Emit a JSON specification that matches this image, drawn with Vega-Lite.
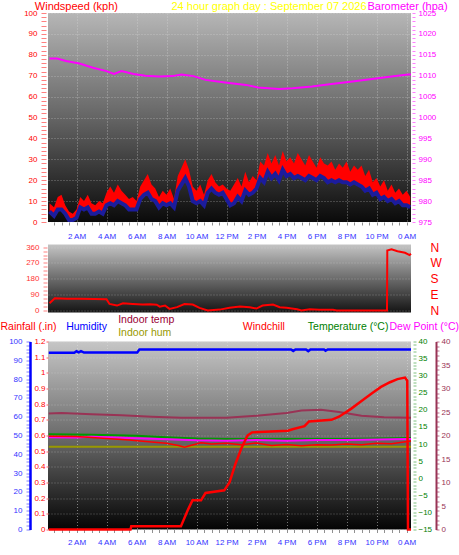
{
"$schema":"https://vega.github.io/schema/vega-lite/v6.json",
"padding":0,
"background":"white",
"bounds":"flush",
"spacing":22.5,
"config":{"font":"Liberation Sans","view":{"stroke":null},"axis":{"labelFont":"Liberation Sans","labelFontSize":8,"titleFont":"Liberation Sans","titleFontWeight":"normal","titleFontSize":11}},
"datasets":{
"wind":[{"h":0.2,"g":9,"a":5},{"h":0.5,"g":7,"a":3},{"h":0.75,"g":12,"a":6},{"h":1,"g":13,"a":6},{"h":1.25,"g":8,"a":4},{"h":1.5,"g":5,"a":1},{"h":1.75,"g":4,"a":1},{"h":2,"g":6,"a":2},{"h":2.25,"g":12,"a":7},{"h":2.5,"g":10,"a":6},{"h":2.75,"g":13,"a":7},{"h":3,"g":9,"a":4},{"h":3.25,"g":8,"a":4},{"h":3.5,"g":10,"a":5},{"h":3.75,"g":9,"a":4},{"h":4,"g":14,"a":8},{"h":4.25,"g":17,"a":9},{"h":4.5,"g":14,"a":8},{"h":4.75,"g":18,"a":10},{"h":5,"g":15,"a":9},{"h":5.25,"g":13,"a":8},{"h":5.5,"g":11,"a":6},{"h":5.75,"g":12,"a":6},{"h":6,"g":10,"a":6},{"h":6.25,"g":17,"a":11},{"h":6.5,"g":20,"a":13},{"h":6.75,"g":23,"a":14},{"h":7,"g":18,"a":11},{"h":7.25,"g":16,"a":10},{"h":7.5,"g":12,"a":7},{"h":7.75,"g":15,"a":9},{"h":8,"g":13,"a":8},{"h":8.25,"g":16,"a":9},{"h":8.5,"g":11,"a":7},{"h":8.75,"g":22,"a":15},{"h":9,"g":26,"a":18},{"h":9.25,"g":30,"a":21},{"h":9.5,"g":25,"a":17},{"h":9.75,"g":17,"a":10},{"h":10,"g":15,"a":9},{"h":10.25,"g":18,"a":10},{"h":10.5,"g":13,"a":8},{"h":10.75,"g":20,"a":14},{"h":11,"g":23,"a":16},{"h":11.25,"g":19,"a":14},{"h":11.5,"g":17,"a":13},{"h":11.75,"g":18,"a":14},{"h":12,"g":16,"a":11},{"h":12.25,"g":15,"a":8},{"h":12.5,"g":18,"a":9},{"h":12.75,"g":21,"a":12},{"h":13,"g":17,"a":10},{"h":13.25,"g":24,"a":15},{"h":13.5,"g":19,"a":13},{"h":13.75,"g":22,"a":14},{"h":14,"g":20,"a":16},{"h":14.25,"g":29,"a":21},{"h":14.5,"g":27,"a":19},{"h":14.75,"g":33,"a":24},{"h":15,"g":28,"a":21},{"h":15.25,"g":32,"a":23},{"h":15.5,"g":27,"a":20},{"h":15.75,"g":34,"a":25},{"h":16,"g":29,"a":22},{"h":16.25,"g":31,"a":23},{"h":16.5,"g":28,"a":21},{"h":16.75,"g":33,"a":22},{"h":17,"g":30,"a":21},{"h":17.25,"g":27,"a":20},{"h":17.5,"g":32,"a":22},{"h":17.75,"g":29,"a":21},{"h":18,"g":26,"a":20},{"h":18.25,"g":31,"a":22},{"h":18.5,"g":28,"a":21},{"h":18.75,"g":27,"a":19},{"h":19,"g":29,"a":20},{"h":19.25,"g":25,"a":19},{"h":19.5,"g":28,"a":20},{"h":19.75,"g":26,"a":19},{"h":20,"g":29,"a":19},{"h":20.25,"g":24,"a":18},{"h":20.5,"g":27,"a":19},{"h":20.75,"g":25,"a":18},{"h":21,"g":27,"a":17},{"h":21.25,"g":22,"a":15},{"h":21.5,"g":25,"a":16},{"h":21.75,"g":19,"a":13},{"h":22,"g":21,"a":14},{"h":22.25,"g":17,"a":11},{"h":22.5,"g":20,"a":12},{"h":22.75,"g":15,"a":10},{"h":23,"g":18,"a":11},{"h":23.25,"g":14,"a":9},{"h":23.5,"g":16,"a":10},{"h":23.75,"g":13,"a":8},{"h":24,"g":15,"a":8},{"h":24.25,"g":12,"a":7}],
"baro":[{"h":0.2,"v":1014.1},{"h":0.7,"v":1014.1},{"h":1.3,"v":1013.5},{"h":2.2,"v":1012.9},{"h":3.1,"v":1011.9},{"h":4,"v":1011.1},{"h":4.5,"v":1010.4},{"h":5,"v":1011.1},{"h":5.8,"v":1010.4},{"h":6.6,"v":1010},{"h":7.5,"v":1009.8},{"h":8.4,"v":1009.9},{"h":9,"v":1010.3},{"h":9.8,"v":1009.9},{"h":10.6,"v":1009},{"h":11.9,"v":1008.4},{"h":13.3,"v":1007.8},{"h":14.1,"v":1007.2},{"h":15.5,"v":1006.8},{"h":16.4,"v":1007},{"h":17.7,"v":1007.4},{"h":19,"v":1008},{"h":20.4,"v":1008.6},{"h":21.7,"v":1009.2},{"h":23,"v":1009.8},{"h":24.1,"v":1010.3},{"h":24.3,"v":1010.3}],
"dir":[{"h":0.2,"v":41},{"h":0.55,"v":69},{"h":1.35,"v":66},{"h":2.2,"v":67},{"h":3.2,"v":65},{"h":4,"v":64},{"h":4.2,"v":37},{"h":4.7,"v":28},{"h":5.1,"v":41},{"h":5.75,"v":37},{"h":6.4,"v":34},{"h":6.9,"v":35},{"h":7.35,"v":33},{"h":7.55,"v":22},{"h":7.9,"v":28},{"h":8.2,"v":9},{"h":8.7,"v":19},{"h":9.2,"v":37},{"h":9.75,"v":34},{"h":10.2,"v":15},{"h":10.75,"v":0},{"h":11.55,"v":5},{"h":12.2,"v":15},{"h":12.9,"v":22},{"h":13.55,"v":19},{"h":14,"v":11},{"h":14.4,"v":28},{"h":15.1,"v":34},{"h":15.55,"v":19},{"h":16,"v":15},{"h":16.7,"v":7},{"h":17,"v":0},{"h":17.55,"v":7},{"h":18.2,"v":4},{"h":19.1,"v":4},{"h":19.35,"v":0},{"h":22.7,"v":0},{"h":22.72,"v":341},{"h":23,"v":347},{"h":23.4,"v":337},{"h":23.9,"v":328},{"h":24.2,"v":315},{"h":24.3,"v":322}],
"rain":[{"h":0.15,"v":0},{"h":5.6,"v":0},{"h":5.65,"v":0.02},{"h":8.96,"v":0.02},{"h":9.4,"v":0.12},{"h":9.73,"v":0.186},{"h":10.3,"v":0.186},{"h":10.6,"v":0.233},{"h":11.85,"v":0.25},{"h":12.2,"v":0.3},{"h":12.6,"v":0.42},{"h":13,"v":0.52},{"h":13.4,"v":0.6},{"h":13.7,"v":0.62},{"h":16.1,"v":0.63},{"h":16.4,"v":0.64},{"h":17.2,"v":0.66},{"h":17.5,"v":0.69},{"h":19,"v":0.7},{"h":19.5,"v":0.72},{"h":20.3,"v":0.77},{"h":21,"v":0.82},{"h":21.7,"v":0.87},{"h":22.3,"v":0.91},{"h":22.9,"v":0.94},{"h":23.4,"v":0.96},{"h":23.9,"v":0.97},{"h":24.05,"v":0.95},{"h":24.1,"v":0},{"h":24.3,"v":0}],
"hum":[{"h":0.15,"v":94},{"h":1.85,"v":94},{"h":2,"v":94.8},{"h":2.15,"v":94.2},{"h":2.3,"v":94.9},{"h":2.5,"v":94.1},{"h":6.05,"v":94.1},{"h":6.2,"v":95.8},{"h":16.3,"v":95.8},{"h":16.45,"v":95},{"h":16.6,"v":95.8},{"h":17.3,"v":95.8},{"h":17.45,"v":94.9},{"h":17.6,"v":95.8},{"h":18.5,"v":95.8},{"h":18.6,"v":95.1},{"h":18.75,"v":95.8},{"h":24.3,"v":95.8}],
"ihum":[{"h":0.15,"v":44},{"h":24.3,"v":44}],
"itemp":[{"h":0.15,"v":24.7},{"h":1,"v":24.8},{"h":3,"v":24.5},{"h":5,"v":24.3},{"h":7,"v":24},{"h":9,"v":23.8},{"h":12,"v":23.8},{"h":14,"v":24.2},{"h":16,"v":24.8},{"h":17,"v":25.3},{"h":18.3,"v":25.5},{"h":19.5,"v":25},{"h":21,"v":24.2},{"h":22.5,"v":23.9},{"h":24.3,"v":23.8}],
"temp":[{"h":0.15,"v":12.9},{"h":3,"v":12.7},{"h":6,"v":12.4},{"h":8,"v":12},{"h":10,"v":11.6},{"h":12,"v":11.5},{"h":16,"v":11.5},{"h":20,"v":11.5},{"h":24.3,"v":11.8}],
"dew":[{"h":0.15,"v":12},{"h":2,"v":11.9},{"h":3,"v":12.1},{"h":6,"v":11.7},{"h":8,"v":11.4},{"h":10,"v":11.1},{"h":12,"v":11},{"h":14,"v":11.2},{"h":16,"v":11},{"h":18,"v":11.2},{"h":20,"v":11.2},{"h":22,"v":11.3},{"h":24.3,"v":11.5}],
"chill":[{"h":0.15,"v":12.3},{"h":2,"v":12.2},{"h":4,"v":11.6},{"h":5.5,"v":11.2},{"h":7,"v":10.6},{"h":8,"v":10.2},{"h":8.8,"v":9.6},{"h":9.2,"v":9.1},{"h":9.6,"v":9.6},{"h":10.3,"v":10.4},{"h":11,"v":10},{"h":12,"v":10.2},{"h":13,"v":9.8},{"h":14,"v":10.3},{"h":15,"v":9.6},{"h":16,"v":9.9},{"h":17,"v":9.5},{"h":18,"v":9.8},{"h":19,"v":9.7},{"h":20,"v":10},{"h":21,"v":9.8},{"h":22,"v":10.2},{"h":23,"v":10.1},{"h":24.3,"v":10.9}]
},
"vconcat":[
{
"width":363,"height":209,
"view":{"stroke":null,"fill":{"gradient":"linear","x1":0,"y1":0,"x2":0,"y2":1,"stops":[{"offset":0,"color":"#b6b6b6"},{"offset":0.5,"color":"#656565"},{"offset":1,"color":"#0a0a0a"}]}},
"resolve":{"scale":{"y":"independent"}},
"encoding":{
"x":{"field":"h","type":"quantitative","scale":{"domain":[0.1,24.3],"nice":false,"zero":false},
"axis":{"values":[0.5,1,1.5,2,2.5,3,3.5,4,4.5,5,5.5,6,6.5,7,7.5,8,8.5,9,9.5,10,10.5,11,11.5,12,12.5,13,13.5,14,14.5,15,15.5,16,16.5,17,17.5,18,18.5,19,19.5,20,20.5,21,21.5,22,22.5,23,23.5,24],
"labelExpr":"datum.value % 2 == 0 ? (datum.value == 24 ? '0 AM' : (datum.value < 12 ? datum.value + ' AM' : (datum.value == 12 ? '12 PM' : (datum.value - 12) + ' PM'))) : ''",
"labelColor":"#3333ff","labelFontSize":8,"labelPadding":7,"labelOverlap":false,"labelFlush":false,"tickSize":3,"tickColor":"#909090","domain":false,"grid":true,"gridColor":"#e0e0e0","gridDash":[1,2],
"gridOpacity":{"condition":{"test":"datum.value % 2 == 0","value":0.55},"value":0},
"title":"24 hour graph day : September 07 2026","titleColor":"#ffff00","titleFontSize":11,"titleAlign":"left","titleBaseline":"alphabetic","titleAngle":0,"titleX":123,"titleY":-212.5}}},
"layer":[
{"data":{"name":"wind"},"mark":{"type":"area","color":"#ff0000"},
"encoding":{
"y":{"field":"g","type":"quantitative","scale":{"domain":[0,100],"nice":false,"zero":false},
"axis":{"values":[0,2,4,6,8,10,12,14,16,18,20,22,24,26,28,30,32,34,36,38,40,42,44,46,48,50,52,54,56,58,60,62,64,66,68,70,72,74,76,78,80,82,84,86,88,90,92,94,96,98,100],
"labelExpr":"datum.value % 10 == 0 ? datum.label : ''","labelColor":"#ff0000","labelPadding":4,"offset":2,"tickSize":5,"tickColor":"#ff8080","domain":false,"grid":true,"gridColor":"#e0e0e0","gridDash":[1,2],
"gridOpacity":{"condition":{"test":"datum.value % 10 == 0","value":0.45},"value":0},"labelOverlap":false,"labelFlush":false,
"title":"Windspeed (kph)","titleColor":"#ff0000","titleAngle":0,"titleAlign":"left","titleBaseline":"alphabetic","titleX":-11.7,"titleY":-3.5,"titleFontSize":11}},
"y2":{"field":"a"}}},
{"data":{"name":"wind"},"mark":{"type":"line","color":"#1c1c9c","strokeWidth":4},
"encoding":{"y":{"field":"a","type":"quantitative","scale":{"domain":[0,100],"nice":false,"zero":false},"axis":null}}},
{"data":{"name":"baro"},"mark":{"type":"line","color":"#ff00ff","strokeWidth":2},
"encoding":{"y":{"field":"v","type":"quantitative","scale":{"domain":[975,1025],"nice":false,"zero":false},
"axis":{"orient":"right","values":[975,976,977,978,979,980,981,982,983,984,985,986,987,988,989,990,991,992,993,994,995,996,997,998,999,1000,1001,1002,1003,1004,1005,1006,1007,1008,1009,1010,1011,1012,1013,1014,1015,1016,1017,1018,1019,1020,1021,1022,1023,1024,1025],
"format":"d","labelExpr":"datum.value % 5 == 0 ? datum.label : ''","labelColor":"#ff00ff","offset":1,"tickSize":3,"tickColor":"#ff80ff","labelPadding":3,"domain":false,"grid":false,"labelOverlap":false,"labelFlush":false,
"title":"Barometer (hpa)","titleColor":"#ff00ff","titleAngle":0,"titleAlign":"left","titleBaseline":"alphabetic","titleX":-45,"titleY":-3.5,"titleFontSize":11}}}}
]
},
{
"bounds":"flush","spacing":29,
"vconcat":[
{
"width":363,"height":68,
"view":{"stroke":null,"fill":{"gradient":"linear","x1":0,"y1":0,"x2":0,"y2":1,"stops":[{"offset":0,"color":"#c4c4c4"},{"offset":1,"color":"#141414"}]}},
"data":{"name":"dir"},
"resolve":{"scale":{"y":"independent"}},
"encoding":{"x":{"field":"h","type":"quantitative","scale":{"domain":[0.1,24.3],"nice":false,"zero":false},"axis":null}},
"layer":[
{"mark":{"type":"line","color":"#ff0000","strokeWidth":2},
"encoding":{
"y":{"field":"v","type":"quantitative","scale":{"domain":[-11.4,374.8],"nice":false,"zero":false},
"axis":{"values":[0,22.5,45,67.5,90,112.5,135,157.5,180,202.5,225,247.5,270,292.5,315,337.5,360],"labelExpr":"datum.value % 90 == 0 ? datum.label : ''","format":"d","labelColor":"#ff3333","offset":1,"tickSize":4,"tickColor":"#ff8080","labelPadding":4,"domain":false,"grid":true,"gridColor":"#e0e0e0","gridDash":[1,2],
"gridOpacity":{"condition":{"test":"datum.value % 90 == 0","value":0.4},"value":0},"labelOverlap":false,"labelFlush":false,"title":null}}}},
{"mark":{"type":"line","opacity":0},
"encoding":{
"y":{"field":"v","type":"quantitative","scale":{"domain":[-11.4,374.8],"nice":false,"zero":false},
"axis":{"orient":"right","values":[0,90,180,270,360],"labelExpr":"datum.value == 90 ? 'E' : datum.value == 180 ? 'S' : datum.value == 270 ? 'W' : 'N'","labelColor":"#ff0000","labelFontSize":12,"labelPadding":19,"ticks":false,"domain":false,"grid":false,"labelOverlap":false,"labelFlush":false,"title":null}}}}
]
},
{
"width":363,"height":188,
"view":{"stroke":null,"fill":{"gradient":"linear","x1":0,"y1":0,"x2":0,"y2":1,"stops":[{"offset":0,"color":"#c6c6c6"},{"offset":0.5,"color":"#6c6c6c"},{"offset":1,"color":"#040404"}]}},
"resolve":{"scale":{"y":"independent"}},
"encoding":{
"x":{"field":"h","type":"quantitative","scale":{"domain":[0.1,24.3],"nice":false,"zero":false},
"axis":{"values":[0.5,1,1.5,2,2.5,3,3.5,4,4.5,5,5.5,6,6.5,7,7.5,8,8.5,9,9.5,10,10.5,11,11.5,12,12.5,13,13.5,14,14.5,15,15.5,16,16.5,17,17.5,18,18.5,19,19.5,20,20.5,21,21.5,22,22.5,23,23.5,24],
"labelExpr":"datum.value % 2 == 0 ? (datum.value == 24 ? '0 AM' : (datum.value < 12 ? datum.value + ' AM' : (datum.value == 12 ? '12 PM' : (datum.value - 12) + ' PM'))) : ''",
"labelColor":"#3333ff","labelFontSize":8,"labelPadding":6,"labelOverlap":false,"labelFlush":false,"tickSize":3,"tickColor":"#909090","domain":false,"grid":true,"gridColor":"#e0e0e0","gridDash":[1,2],
"gridOpacity":{"condition":{"test":"datum.value % 2 == 0","value":0.5},"value":0},"title":null}}},
"layer":[
{"data":{"name":"ihum"},"mark":{"type":"line","color":"#999900","strokeWidth":2},
"encoding":{
"y":{"field":"v","type":"quantitative","scale":{"domain":[0,100],"nice":false,"zero":false},
"axis":{"orient":"left","offset":0,"labels":false,"ticks":false,"domain":false,"grid":false,"title":"Indoor hum","titleColor":"#999900","titleFontSize":10.5,"titleAngle":0,"titleAlign":"left","titleBaseline":"alphabetic","titleX":69.7,"titleY":-6.5}}}},
{"data":{"name":"itemp"},"mark":{"type":"line","color":"#993355","strokeWidth":2},
"encoding":{
"y":{"field":"v","type":"quantitative","scale":{"domain":[0,40],"nice":false,"zero":false},
"axis":{"orient":"right","offset":25,"values":[0,1,2,3,4,5,6,7,8,9,10,11,12,13,14,15,16,17,18,19,20,21,22,23,24,25,26,27,28,29,30,31,32,33,34,35,36,37,38,39,40],"labelExpr":"datum.value % 5 == 0 ? datum.label : ''","labelColor":"#993355","tickSize":3,"tickColor":"#c07090","labelPadding":2,"domain":true,"domainColor":"#993355","domainWidth":2,"grid":false,"labelOverlap":false,"labelFlush":false,
"title":"Indoor temp","titleColor":"#990033","titleFontSize":10.5,"titleAngle":0,"titleAlign":"left","titleBaseline":"alphabetic","titleX":-318.3,"titleY":-19}}}},
{"data":{"name":"temp"},"mark":{"type":"line","color":"#009900","strokeWidth":2},
"encoding":{
"y":{"field":"v","type":"quantitative","scale":{"domain":[-15,40],"nice":false,"zero":false},
"axis":{"orient":"right","offset":2,"values":[-15,-14,-13,-12,-11,-10,-9,-8,-7,-6,-5,-4,-3,-2,-1,0,1,2,3,4,5,6,7,8,9,10,11,12,13,14,15,16,17,18,19,20,21,22,23,24,25,26,27,28,29,30,31,32,33,34,35,36,37,38,39,40],"labelExpr":"datum.value % 5 == 0 ? datum.label : ''","labelColor":"#008000","tickSize":3,"tickColor":"#80c080","labelPadding":2,"domain":false,"grid":false,"labelOverlap":false,"labelFlush":false,
"title":"Temperature (°C)","titleColor":"#008000","titleFontSize":10.5,"titleAngle":0,"titleAlign":"left","titleBaseline":"alphabetic","titleX":-105.7,"titleY":-12}}}},
{"data":{"name":"dew"},"mark":{"type":"line","color":"#ff00ff","strokeWidth":2},
"encoding":{
"y":{"field":"v","type":"quantitative","scale":{"domain":[-15,40],"nice":false,"zero":false},
"axis":{"orient":"right","offset":0,"labels":false,"ticks":false,"domain":false,"grid":false,"title":"Dew Point (°C)","titleColor":"#ff00ff","titleFontSize":10.5,"titleAngle":0,"titleAlign":"left","titleBaseline":"alphabetic","titleX":-22,"titleY":-12}}}},
{"data":{"name":"chill"},"mark":{"type":"line","color":"#ff0000","strokeWidth":1.5},
"encoding":{
"y":{"field":"v","type":"quantitative","scale":{"domain":[-15,40],"nice":false,"zero":false},
"axis":{"orient":"right","offset":0,"labels":false,"ticks":false,"domain":false,"grid":false,"title":"Windchill","titleColor":"#ff0000","titleFontSize":10.5,"titleAngle":0,"titleAlign":"left","titleBaseline":"alphabetic","titleX":-168.7,"titleY":-12}}}},
{"data":{"name":"hum"},"mark":{"type":"line","color":"#0000ff","strokeWidth":2.5},
"encoding":{
"y":{"field":"v","type":"quantitative","scale":{"domain":[0,100],"nice":false,"zero":false},
"axis":{"orient":"left","offset":18,"values":[0,2,4,6,8,10,12,14,16,18,20,22,24,26,28,30,32,34,36,38,40,42,44,46,48,50,52,54,56,58,60,62,64,66,68,70,72,74,76,78,80,82,84,86,88,90,92,94,96,98,100],"labelExpr":"datum.value % 10 == 0 ? datum.label : ''","labelColor":"#3333ff","tickSize":4,"tickColor":"#8080ff","labelPadding":4,"domain":true,"domainColor":"#0000ff","domainWidth":2.5,"grid":false,"labelOverlap":false,"labelFlush":false,
"title":"Humidity","titleColor":"#0000ff","titleFontSize":10.5,"titleAngle":0,"titleAlign":"left","titleBaseline":"alphabetic","titleX":35.7,"titleY":-12}}}},
{"data":{"name":"rain"},"mark":{"type":"line","color":"#ff0000","strokeWidth":2.5},
"encoding":{
"y":{"field":"v","type":"quantitative","scale":{"domain":[0,1.2],"nice":false,"zero":false},
"axis":{"orient":"left","offset":0,"values":[0,0.1,0.2,0.3,0.4,0.5,0.6,0.7,0.8,0.9,1,1.1,1.2],"format":"~g","labelColor":"#ff0000","tickSize":2,"tickColor":"#ff6060","labelPadding":1,"domain":false,"grid":true,"gridColor":"#e0e0e0","gridDash":[1,2],"gridOpacity":0.4,"labelOverlap":false,"labelFlush":false,
"title":"Rainfall (.in)","titleColor":"#ff0000","titleFontSize":10.5,"titleAngle":0,"titleAlign":"left","titleBaseline":"alphabetic","titleX":-48,"titleY":-12}}}}
]
}
]
}
]
}
